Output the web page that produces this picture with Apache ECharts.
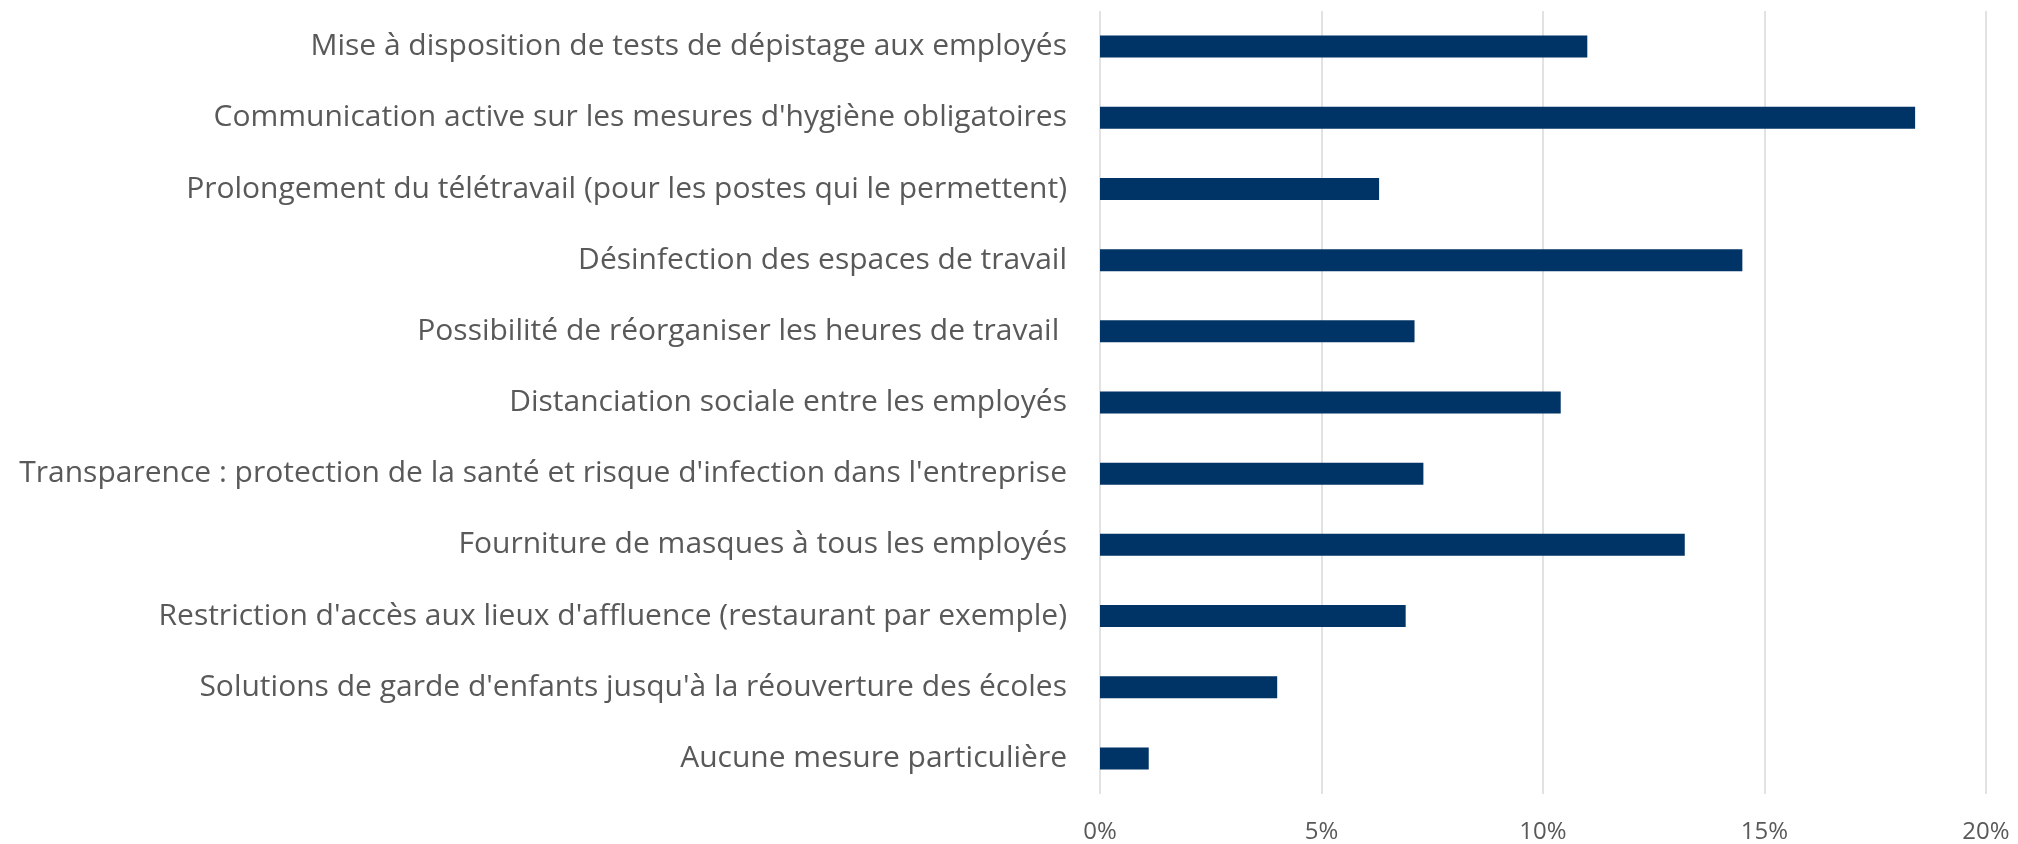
<!DOCTYPE html>
<html>
<head>
<meta charset="utf-8">
<script src="https://cdn.jsdelivr.net/npm/echarts@6/dist/echarts.min.js"></script>
<style>
  html, body { margin: 0; padding: 0; background: #fff; }
  #chart { width: 2018px; height: 844px; }
</style>
</head>
<body>
<div id="chart"></div>
<script>
// categories, top to bottom
var categories = [
	"Mise à disposition de tests de dépistage aux employés",
	"Communication active sur les mesures d'hygiène obligatoires",
	"Prolongement du télétravail (pour les postes qui le permettent)",
	"Désinfection des espaces de travail",
	"Possibilité de réorganiser les heures de travail ",
	"Distanciation sociale entre les employés",
	"Transparence : protection de la santé et risque d'infection dans l'entreprise",
	"Fourniture de masques à tous les employés",
	"Restriction d'accès aux lieux d'affluence (restaurant par exemple)",
	"Solutions de garde d'enfants jusqu'à la réouverture des écoles",
	"Aucune mesure particulière"
];
// part en %
var values = [11.0, 18.4, 6.3, 14.5, 7.1, 10.4, 7.3, 13.2, 6.9, 4.0, 1.1];

var xTicks = { min: 0, max: 20, interval: 5 };

var myChart = echarts.init(document.getElementById('chart'));
myChart.setOption({
	animation: false,
	grid: { left: 1100, right: 32, top: 11, bottom: 50, containLabel: false },
	xAxis: {
		type: 'value',
		min: xTicks.min,
		max: xTicks.max,
		interval: xTicks.interval,
		axisLine: { show: false },
		axisTick: { show: false },
		splitLine: { lineStyle: { color: '#d9d9d9', width: 1.5 } },
		axisLabel: {
			formatter: '{value}%',
			color: '#595959',
			fontFamily: 'Open Sans',
			fontSize: 24,
			margin: 26
		}
	},
	yAxis: {
		type: 'category',
		inverse: true,
		data: categories,
		axisLine: { show: false },
		axisTick: { show: false },
		axisLabel: {
			color: '#595959',
			fontFamily: 'Open Sans',
			fontSize: 30,
			margin: 33
		}
	},
	series: [{
		type: 'bar',
		data: values,
		barWidth: 22,
		itemStyle: { color: '#003366' }
	}]
});
</script>
</body>
</html>
